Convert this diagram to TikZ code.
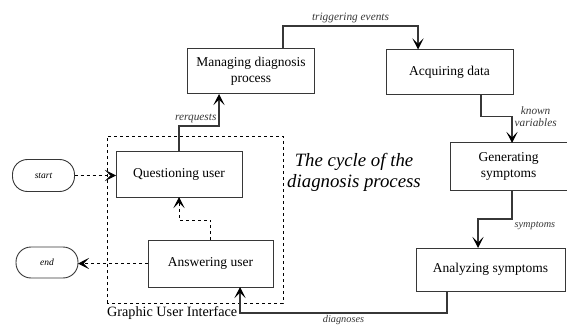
\documentclass[tikz,border=0pt]{standalone}
\usepackage{fontspec}
\setmainfont{Liberation Serif}
\usepackage{tikz}
\usetikzlibrary{arrows.meta,positioning,calc}
\usepackage{xcolor}
\definecolor{edge}{RGB}{55,55,55}

\begin{document}
\begin{tikzpicture}[x=1pt, y=1pt, >={Stealth[length=11pt, width=11pt, inset=5.5pt, color=black]},
  stage/.style={draw=edge, line width=1pt, minimum height=45pt, minimum width=127pt,
    inner sep=0pt, outer sep=0pt, font=\fontsize{13.5}{15.5}\selectfont, align=center},
  term/.style={draw=edge, line width=0.9pt, rounded corners=15pt, minimum height=32pt,
    minimum width=62pt, inner sep=0pt, outer sep=0pt, font=\fontsize{9.5}{11}\selectfont\itshape},
  flow/.style={->, draw=edge, line width=1.2pt},
  ctrl/.style={->, dashed, line width=0.9pt},
  lbl/.style={font=\fontsize{11.3}{12.5}\selectfont\itshape, text=edge, inner sep=2pt},
  lblsmall/.style={lbl, font=\fontsize{10.3}{12}\selectfont\itshape}]
\useasboundingbox (0,0) rectangle (567,327);
% the six stages of the cycle
\node[stage] (mgr) at (251,255.5) {Managing diagnosis\\process};
\node[stage] (acq) at (449.5,255) {Acquiring data};
\node[stage, minimum width=117pt, minimum height=47pt] (gen) at (508.5,160.5) {Generating\\symptoms};
\node[stage, minimum width=149pt, minimum height=43pt] (ana) at (490.5,57.5) {Analyzing symptoms};
\node[stage, minimum width=126pt] (qst) at (179,152.5) {Questioning user};
\node[stage, minimum width=125pt, minimum height=47pt] (ans) at (210.5,63.5) {Answering user};
\node[term] (st) at (43.5,151.5) {start};
\node[term, minimum height=31pt] (en) at (47,64.5) {end};
% user interface frame
\draw[dashed, line width=0.9pt] (107,24) rectangle (283,191);
\node[font=\fontsize{14.2}{16}\selectfont, anchor=west, inner sep=0pt] (gui) at (107,14) {Graphic User Interface};
\node[font=\fontsize{18.8}{21}\selectfont\itshape, align=center] (cyc) at (354,155) {The cycle of the\\diagnosis process};
% data flow
\draw[flow] (qst.north) -- ++(0,26) -| node[pos=0.5, lbl, above left] {rerquests} ([xshift=-32pt]mgr.south);
\draw[flow] ([xshift=32pt]mgr.north) -- ++(0,23) -| node[pos=0.25, lbl, above] {triggering events} ([xshift=-31.5pt]acq.north);
\draw[flow] ([xshift=31.5pt]acq.south) -- ++(0,-22) -| node[pos=0.5, lbl, right, align=center] {known\\variables} ([xshift=3.5pt]gen.north);
\draw[flow] ([xshift=3.5pt]gen.south) -- ++(0,-29) -| node[pos=0.0, lblsmall, below right] {symptoms} ([xshift=-12.5pt]ana.north);
\draw[flow] ([xshift=-43.5pt]ana.south) -- ++(0,-22) -| node[pos=0.25, lblsmall, below] {diagnoses} ([xshift=29.5pt]ans.south);
% control inside the interface
\draw[ctrl] (ans.north) -- ++(0,20) -| (qst.south);
\draw[ctrl] (st.east) -- (st.east -| qst.west);
\draw[ctrl] (ans.west) -- (ans.west -| en.east);
\end{tikzpicture}
\end{document}
